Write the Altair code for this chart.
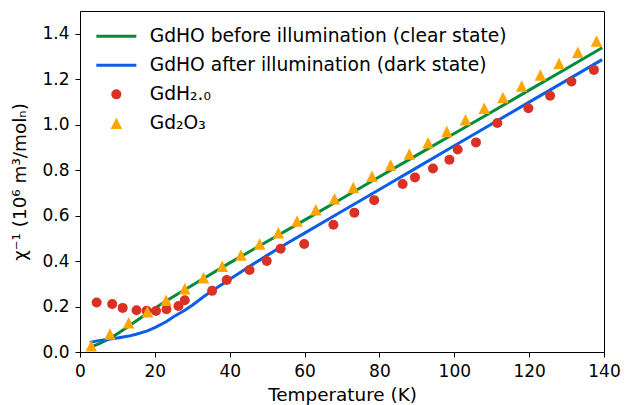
import altair as alt
import pandas as pd

# ---- series names and colours ----
S_CLEAR = "GdHO before illumination (clear state)"
S_DARK = "GdHO after illumination (dark state)"
S_H = "GdH₂.₀"
S_O = "Gd₂O₃"
series_names = [S_CLEAR, S_DARK, S_H, S_O]
series_colors = ["#008C3A", "#0A5FE6", "#D93124", "#FFA500"]

# ---- GdHO before illumination (green line) ----
clear_T = [2.6, 5, 8, 10, 13, 15, 18, 20, 23, 25, 30, 40, 50, 60, 70, 80, 90, 100, 110, 120, 130, 139.5]
clear_chi = [0.02, 0.036, 0.06, 0.08, 0.113, 0.136, 0.17, 0.192, 0.224, 0.244, 0.294, 0.392, 0.486, 0.58, 0.675,
             0.771, 0.866, 0.961, 1.056, 1.152, 1.247, 1.338]

# ---- GdHO after illumination (blue line) ----
dark_T = [2.6, 5, 8, 10, 13, 15, 18, 20, 23, 25, 28, 30, 33, 35, 38, 40, 43, 45, 48, 50, 55, 60, 70, 80, 90,
          100, 110, 120, 130, 139.5]
dark_chi = [0.042, 0.05, 0.057, 0.062, 0.07, 0.078, 0.093, 0.107, 0.133, 0.155, 0.184, 0.206, 0.243, 0.266,
            0.298, 0.32, 0.352, 0.374, 0.404, 0.425, 0.475, 0.523, 0.619, 0.715, 0.811, 0.907, 1.003, 1.099,
            1.195, 1.286]

# ---- GdH2.0 (red circles) ----
h_T = [4.45, 8.6, 11.4, 15.1, 17.8, 20.3, 23.1, 26.3, 28.0, 35.3, 39.2, 45.3, 49.9, 53.6, 59.9, 67.7, 73.3,
       78.6, 86.2, 89.5, 94.3, 98.7, 100.9, 105.8, 111.5, 119.8, 125.6, 131.3, 137.3]
h_chi = [0.218, 0.211, 0.194, 0.184, 0.181, 0.18, 0.188, 0.202, 0.228, 0.269, 0.317, 0.361, 0.40, 0.454, 0.475,
         0.56, 0.613, 0.668, 0.739, 0.768, 0.807, 0.846, 0.891, 0.922, 1.007, 1.072, 1.127, 1.19, 1.241]

# ---- Gd2O3 (orange triangles) ----
o_T = [3, 8, 13, 18, 23, 28, 33, 38, 43, 48, 53, 58, 63, 68, 73, 78, 83, 88, 93, 98, 103, 108, 113, 118, 123,
       128, 133, 138]
o_chi = [0.028, 0.079, 0.129, 0.177, 0.228, 0.278, 0.327, 0.377, 0.427, 0.475, 0.525, 0.576, 0.626, 0.674,
         0.724, 0.773, 0.823, 0.871, 0.92, 0.97, 1.022, 1.072, 1.12, 1.17, 1.219, 1.269, 1.319, 1.368]

# ---- axis ticks ----
x_ticks = [0, 20, 40, 60, 80, 100, 120, 140]
y_ticks = [0.0, 0.2, 0.4, 0.6, 0.8, 1.0, 1.2, 1.4]

FONT = "DejaVu Sans"

lines_df = pd.concat([
    pd.DataFrame({"T": clear_T, "chi": clear_chi, "series": S_CLEAR}),
    pd.DataFrame({"T": dark_T, "chi": dark_chi, "series": S_DARK}),
], ignore_index=True)

pts_df = pd.concat([
    pd.DataFrame({"T": h_T, "chi": h_chi, "series": S_H}),
    pd.DataFrame({"T": o_T, "chi": o_chi, "series": S_O}),
], ignore_index=True)

color_scale = alt.Scale(domain=series_names, range=series_colors)
line_sym = "M-4,-0.3H4V0.3H-4Z"
tri_sym = "M0,-1.15L-1.15,1.15L1.15,1.15Z"
shape_scale = alt.Scale(domain=series_names, range=[line_sym, line_sym, "circle", tri_sym])

x_enc = alt.X("T:Q", scale=alt.Scale(domain=[0, 140], nice=False),
              axis=alt.Axis(values=x_ticks, title="Temperature (K)", format="d", labelFlush=False))
y_enc = alt.Y("chi:Q", scale=alt.Scale(domain=[0, 1.5], nice=False),
              axis=alt.Axis(values=y_ticks, title="χ⁻¹ (10⁶ m³/molₙ)", format=".1f", labelFlush=False))

legend = alt.Legend(title=None, orient="none", legendX=27, legendY=16, padding=0,
                    labelFont=FONT, labelFontSize=18.7, labelColor="black", labelLimit=600,
                    symbolSize=100, symbolStrokeWidth=0, labelOffset=24, rowPadding=9,
                    symbolOpacity=1)

lines = alt.Chart(lines_df).mark_line(strokeWidth=3).encode(
    x=x_enc, y=y_enc,
    color=alt.Color("series:N", scale=color_scale, legend=legend),
)

points = alt.Chart(pts_df).mark_point(filled=True, size=100, opacity=1, strokeWidth=0).encode(
    x=x_enc, y=y_enc,
    color=alt.Color("series:N", scale=color_scale, legend=legend),
    shape=alt.Shape("series:N", scale=shape_scale, legend=legend),
)

chart = alt.layer(lines, points).properties(
    width=524, height=341,
    autosize=alt.AutoSizeParams(type="none"),
    padding={"left": 72, "top": 3, "right": 25, "bottom": 53},
).configure_view(
    stroke="black", strokeWidth=1
).configure_axis(
    grid=False, labelFont=FONT, titleFont=FONT, labelFontSize=17, titleFontSize=18.4,
    labelColor="black", titleColor="black", titleFontWeight="normal",
    domainColor="black", tickColor="black", tickSize=5, tickWidth=1, domainWidth=1,
    labelPadding=6,
).configure_axisX(
    titlePadding=6
).configure_axisY(
    titlePadding=12
)

chart.save("out.html", embed_options={"renderer": "svg", "actions": False})
